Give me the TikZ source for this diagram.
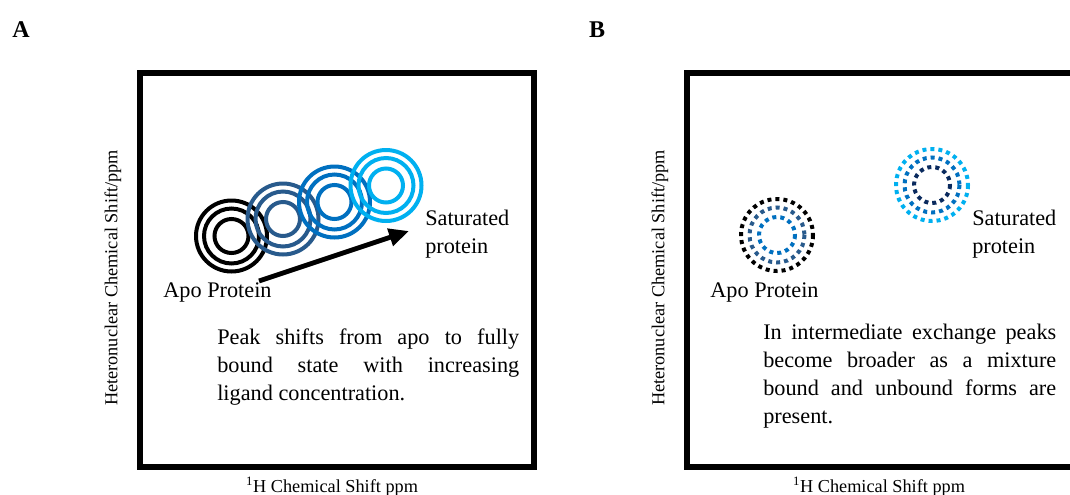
\documentclass[tikz,border=0pt]{standalone}
\usepackage{fontspec}
\setmainfont{Liberation Serif}
\usetikzlibrary{arrows.meta}
\definecolor{ringdark}{HTML}{285A8C}
\definecolor{ringmed}{HTML}{0070C0}
\definecolor{ringlight}{HTML}{00B0F0}
\definecolor{ringnavy}{HTML}{0A2A5E}
\newcommand{\jline}[2]{\makebox[#1][s]{#2}}
\begin{document}
\begin{tikzpicture}[x=0.75pt,y=-0.75pt,
  frame/.style={line width=4.5pt},
  ring/.style={line width=3pt},
  dring/.style={line width=3pt, dash pattern=on 3pt off 3pt},
  body/.style={font=\fontsize{16.7}{21}\selectfont, inner sep=0pt},
  axis/.style={font=\fontsize{13.7}{16}\selectfont, inner sep=0pt},
  panel/.style={font=\fontsize{18}{20}\selectfont\bfseries, inner sep=0pt}]
\clip (0,0) rectangle (1070,494);
\fill[white] (0,0) rectangle (1070,494);

% ---------- Panel A ----------
\node[panel] (lblA) at (21,30) {A};
\draw[frame] (140,73) rectangle (534,467);
\node[axis, rotate=90] (yA) at (113,278) {Heteronuclear Chemical Shift/ppm};
\node[axis, anchor=base] (xA) at (332,492) {\textsuperscript{1}H Chemical Shift ppm};

\foreach \cx/\cy/\col in {231.5/236/black, 283/219/ringdark, 334.5/202/ringmed, 386/185.5/ringlight}{
  \draw[ring, \col] (\cx,\cy) circle[radius=35.5];
  \draw[ring, \col] (\cx,\cy) circle[radius=27.5];
  \draw[ring, \col] (\cx,\cy) circle[radius=17];
}

\coordinate (arrS) at (259,281);
\coordinate (arrE) at (409,231);
\draw[line width=3.6pt, -{Triangle[length=15pt,width=13pt]}] (arrS) -- (arrE);

\node[body, anchor=base] (apoA) at (217.5,297) {Apo Protein};
\node[body, anchor=base west] (satA) at (425,225)
  {\vtop{\baselineskip=21pt \hbox{Saturated}\hbox{protein}}};
\node[body, anchor=base west] (parA) at (217,344)
  {\vtop{\baselineskip=21pt
    \hbox{\jline{226.5pt}{Peak shifts from apo to fully}}
    \hbox{\jline{226.5pt}{bound state with increasing}}
    \hbox{ligand concentration.}}};

% ---------- Panel B ----------
\node[panel] (lblB) at (597,30) {B};
\draw[frame] (687,73) rectangle (1081,467);
\node[axis, rotate=90] (yB) at (660,278) {Heteronuclear Chemical Shift/ppm};
\node[axis, anchor=base] (xB) at (879,492) {\textsuperscript{1}H Chemical Shift ppm};

\draw[dring, black]    (777,235) circle[radius=36];
\draw[dring, ringdark] (777,235) circle[radius=27.5];
\draw[dring, ringmed]  (777,235) circle[radius=18];

\draw[dring, ringlight] (932,185) circle[radius=36];
\draw[dring, ringmed]   (932,185) circle[radius=27.5];
\draw[dring, ringnavy]  (932,185) circle[radius=18];

\node[body, anchor=base] (apoB) at (764.5,297) {Apo Protein};
\node[body, anchor=base west] (satB) at (972,225)
  {\vtop{\baselineskip=21pt \hbox{Saturated}\hbox{protein}}};
\node[body, anchor=base west] (parB) at (763,339)
  {\vtop{\baselineskip=21pt
    \hbox{\jline{219.75pt}{In intermediate exchange peaks}}
    \hbox{\jline{219.75pt}{become broader as a mixture}}
    \hbox{\jline{219.75pt}{bound and unbound forms are}}
    \hbox{present.}}};
\end{tikzpicture}
\end{document}
